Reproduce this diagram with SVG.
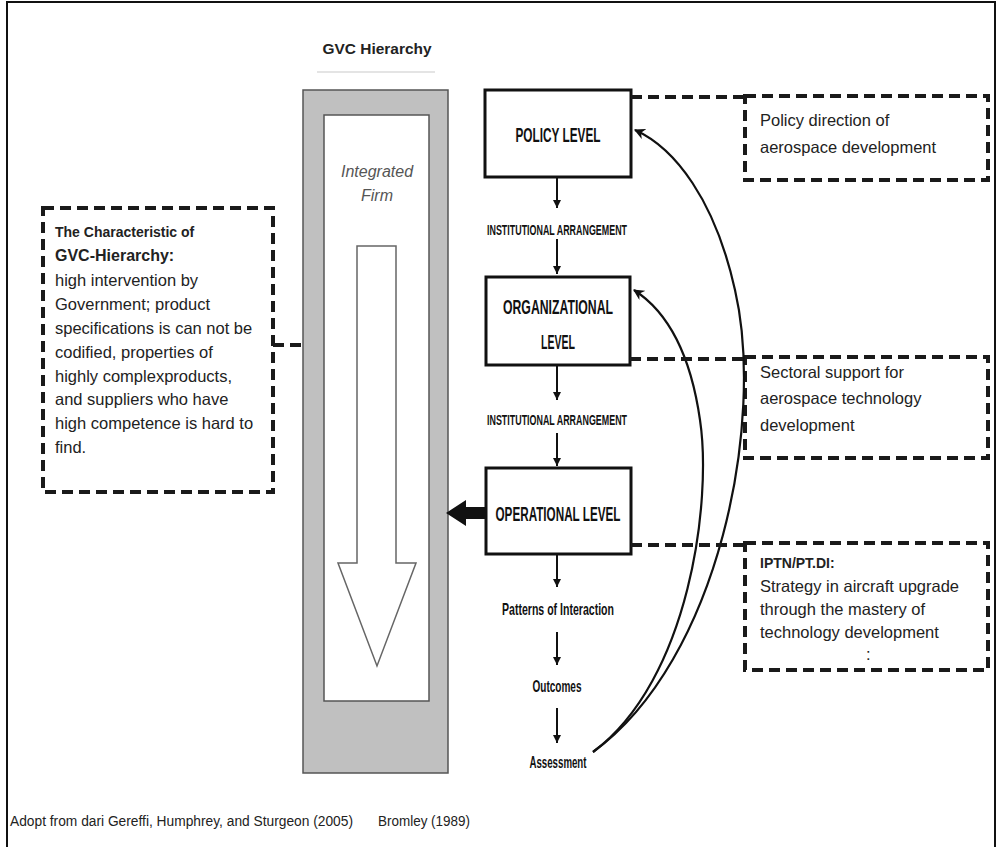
<svg xmlns="http://www.w3.org/2000/svg" width="998" height="847" viewBox="0 0 998 847">
<style>
.frame{fill:none;stroke:#111;stroke-width:2}
.lvl{fill:#fff;stroke:#111;stroke-width:3}
.lvlt{font-family:"Liberation Sans Narrow","Liberation Sans",sans-serif;font-weight:bold;fill:#111;text-anchor:middle}
.dash{fill:none;stroke:#1a1a1a;stroke-width:4;stroke-dasharray:11 6}
.note{font-family:"Liberation Sans",Arial,sans-serif;font-size:16.5px;fill:#222}
.ar{stroke:#111;stroke-width:2;fill:none;marker-end:url(#ah)}
.cv{stroke:#111;stroke-width:2.2;fill:none;marker-end:url(#ah2)}
</style>
<defs>
<marker id="ah" viewBox="0 0 10 10" refX="10" refY="5" markerWidth="4" markerHeight="4" orient="auto" markerUnits="strokeWidth">
<path d="M0 0 L10 5 L0 10 Z" fill="#111"/>
</marker>
<marker id="ah2" viewBox="0 0 10 10" refX="9" refY="5" markerWidth="5" markerHeight="5" orient="auto" markerUnits="strokeWidth">
<path d="M0 0 L10 5 L0 10 L3 5 Z" fill="#111"/>
</marker>
</defs>
<rect width="998" height="847" fill="#fff"/>
<rect class="frame" x="7" y="2" width="988" height="880"/>

<g id="title">
<text x="377" y="54" text-anchor="middle" font-family="'Liberation Sans',Arial,sans-serif" font-weight="bold" font-size="14" fill="#222" textLength="109" lengthAdjust="spacingAndGlyphs">GVC Hierarchy</text>
<line x1="317" y1="72" x2="435" y2="72" stroke="#e4e4e4" stroke-width="2"/>
</g>

<g id="gvc-column">
<rect x="303" y="90" width="145" height="683" fill="#c0c0c0" stroke="#555" stroke-width="1.5"/>
<rect x="324" y="115" width="105" height="586" fill="#fff" stroke="#555" stroke-width="1.5"/>
<text x="377" y="177" text-anchor="middle" font-family="'Liberation Sans',Arial,sans-serif" font-style="italic" font-size="16" fill="#555">Integrated</text>
<text x="377" y="201" text-anchor="middle" font-family="'Liberation Sans',Arial,sans-serif" font-style="italic" font-size="16" fill="#555">Firm</text>
<path d="M357 246 L396 246 L396 563 L416 563 L377 666 L338 563 L357 563 Z" fill="#fff" stroke="#666" stroke-width="1.5"/>
</g>

<g id="policy-level">
<rect class="lvl" x="485" y="90" width="146" height="87"/>
<text class="lvlt" x="558" y="142" font-size="20" textLength="85" lengthAdjust="spacingAndGlyphs">POLICY LEVEL</text>
</g>

<g id="organizational-level">
<rect class="lvl" x="486" y="277" width="144" height="88"/>
<text class="lvlt" x="558" y="314" font-size="21" textLength="110" lengthAdjust="spacingAndGlyphs">ORGANIZATIONAL</text>
<text class="lvlt" x="558" y="349" font-size="21" textLength="34" lengthAdjust="spacingAndGlyphs">LEVEL</text>
</g>

<g id="operational-level">
<rect class="lvl" x="486" y="468" width="145" height="86"/>
<text class="lvlt" x="558" y="521" font-size="21" textLength="125" lengthAdjust="spacingAndGlyphs">OPERATIONAL LEVEL</text>
</g>

<g id="institutional-1">
<text class="lvlt" x="557" y="235" font-size="14" textLength="140" lengthAdjust="spacingAndGlyphs">INSTITUTIONAL  ARRANGEMENT</text>
</g>
<g id="institutional-2">
<text class="lvlt" x="557" y="425" font-size="14" textLength="140" lengthAdjust="spacingAndGlyphs">INSTITUTIONAL  ARRANGEMENT</text>
</g>
<g id="patterns">
<text class="lvlt" x="558" y="615" font-size="17" textLength="112" lengthAdjust="spacingAndGlyphs">Patterns of Interaction</text>
</g>
<g id="outcomes">
<text class="lvlt" x="557" y="692" font-size="16" textLength="49" lengthAdjust="spacingAndGlyphs">Outcomes</text>
</g>
<g id="assessment">
<text class="lvlt" x="558" y="768" font-size="16" textLength="57" lengthAdjust="spacingAndGlyphs">Assessment</text>
</g>

<g id="characteristic-note">
<rect class="dash" x="43" y="208" width="230" height="284"/>
<text x="55" y="237" font-family="'Liberation Sans',Arial,sans-serif" font-weight="bold" font-size="14" fill="#222">The Characteristic  of</text>
<text x="55" y="261" font-family="'Liberation Sans',Arial,sans-serif" font-weight="bold" font-size="16" fill="#222">GVC-Hierarchy:</text>
<text class="note" x="55" y="286">high intervention by</text>
<text class="note" x="55" y="310">Government; product</text>
<text class="note" x="55" y="334">specifications is can not be</text>
<text class="note" x="55" y="358">codified, properties of</text>
<text class="note" x="55" y="382">highly complexproducts,</text>
<text class="note" x="55" y="405">and suppliers who have</text>
<text class="note" x="55" y="429">high competence is hard to</text>
<text class="note" x="55" y="453">find.</text>
</g>

<g id="policy-note">
<rect class="dash" x="745" y="96" width="243" height="84"/>
<text class="note" x="760" y="126" font-size="17.3">Policy direction of</text>
<text class="note" x="760" y="153" font-size="17.3">aerospace development</text>
</g>

<g id="sectoral-note">
<rect class="dash" x="745" y="357" width="243" height="101"/>
<text class="note" x="760" y="378" font-size="17">Sectoral support for</text>
<text class="note" x="760" y="404" font-size="17">aerospace technology</text>
<text class="note" x="760" y="431" font-size="17">development</text>
</g>

<g id="iptn-note">
<rect class="dash" x="745" y="543" width="243" height="127"/>
<text x="760" y="568" font-family="'Liberation Sans',Arial,sans-serif" font-weight="bold" font-size="14" fill="#222">IPTN/PT.DI:</text>
<text class="note" x="760" y="592" font-size="14.8">Strategy in aircraft upgrade</text>
<text class="note" x="760" y="615" font-size="14.8">through the mastery of</text>
<text class="note" x="760" y="638" font-size="14.8">technology development</text>
<text class="note" x="866" y="660" font-size="14.8">:</text>
</g>

<g id="sources">
<text x="10" y="826" font-family="'Liberation Sans',Arial,sans-serif" font-size="14" fill="#222" textLength="343" lengthAdjust="spacingAndGlyphs">Adopt from dari Gereffi,  Humphrey,  and Sturgeon (2005)</text>
<text x="378" y="826" font-family="'Liberation Sans',Arial,sans-serif" font-size="14" fill="#222" textLength="92" lengthAdjust="spacingAndGlyphs">Bromley (1989)</text>
</g>

<g id="connectors">
<line class="ar" x1="557" y1="177" x2="557" y2="208"/>
<line class="ar" x1="557" y1="239" x2="557" y2="274"/>
<line class="ar" x1="557" y1="365" x2="557" y2="400"/>
<line class="ar" x1="557" y1="433" x2="557" y2="466"/>
<line class="ar" x1="557" y1="555" x2="557" y2="587"/>
<line class="ar" x1="557" y1="632" x2="557" y2="665"/>
<line class="ar" x1="557" y1="708" x2="557" y2="743"/>
<path d="M486 507 L466 507 L466 500 L446 513 L466 526 L466 519 L486 519 Z" fill="#111"/>
<path class="cv" d="M593 752 C 720 660, 765 420, 735 290 C 715 200, 675 148, 635 130"/>
<path class="cv" d="M593 752 C 690 680, 712 500, 700 420 C 690 350, 665 310, 634 290"/>
<line class="dash" x1="631" y1="97" x2="745" y2="97"/>
<line class="dash" x1="630" y1="359" x2="745" y2="359"/>
<line class="dash" x1="631" y1="545" x2="745" y2="545"/>
<line class="dash" x1="273" y1="345" x2="303" y2="345"/>
</g>
</svg>
